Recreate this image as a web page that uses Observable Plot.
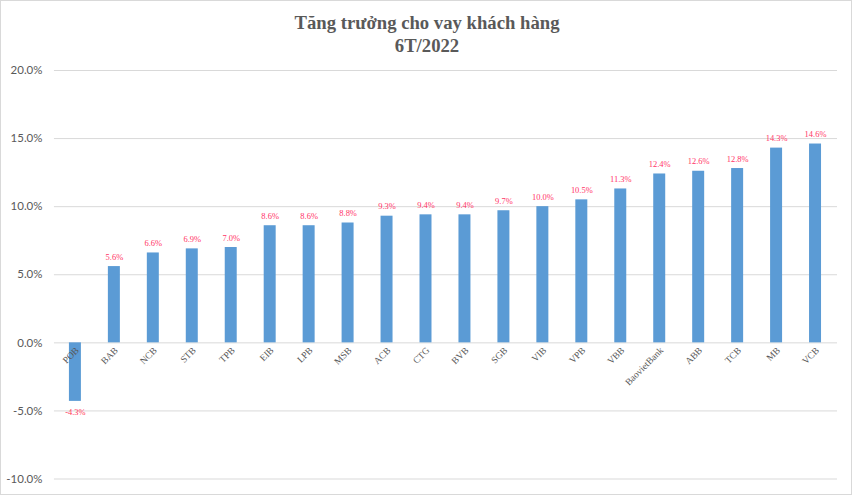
<!DOCTYPE html>
<html>
<head>
<meta charset="utf-8">
<script src="https://cdn.jsdelivr.net/npm/d3@7"></script>
<script src="https://cdn.jsdelivr.net/npm/@observablehq/plot@0.6"></script>
<style>
  html, body { margin: 0; padding: 0; background: #fff; }
  #wrap { position: relative; width: 852px; height: 495px; box-sizing: border-box; border: 1px solid #d9d9d9; overflow: hidden; }
  #title { position: absolute; left: 0; top: 10px; width: 852px; text-align: center;
    font-family: "Liberation Serif", "Times New Roman", serif; font-weight: bold; font-size: 18.7px;
    line-height: 23px; color: #595959; }
  #chart { position: absolute; left: -1px; top: 59px; }
</style>
</head>
<body>
<div id="wrap">
  <div id="title">Tăng trưởng cho vay khách hàng<br>6T/2022</div>
  <div id="chart"></div>
</div>
<script>
const banks = ["POB","BAB","NCB","STB","TPB","EIB","LPB","MSB","ACB","CTG","BVB","SGB","VIB","VPB","VBB","BaovietBank","ABB","TCB","MB","VCB"];
const growth = [-4.3,5.6,6.6,6.9,7.0,8.6,8.6,8.8,9.3,9.4,9.4,9.7,10.0,10.5,11.3,12.4,12.6,12.8,14.3,14.6];
const yTicks = [-10,-5,0,5,10,15,20];

const data = banks.map((b, i) => ({bank: b, value: growth[i]}));
const pos = data.filter(d => d.value >= 0);
const neg = data.filter(d => d.value < 0);
const fmt = d => d.toFixed(1) + "%";
const serif = "'Liberation Serif', 'Times New Roman', serif";

const chart = Plot.plot({
  width: 852,
  height: 436,
  marginTop: 10,
  marginBottom: 17,
  marginLeft: 54,
  marginRight: 14,
  style: {background: "transparent"},
  x: {domain: banks, paddingInner: 0.68, paddingOuter: 0.34, axis: null},
  y: {domain: [-10, 20], ticks: yTicks, tickFormat: fmt},
  marks: [
    Plot.gridY(yTicks, {stroke: "#d9d9d9", strokeOpacity: 1}),
    Plot.axisY({ticks: yTicks, tickFormat: fmt, tickSize: 0, tickPadding: 12,
      fill: "#595959", fontSize: 11.5, fontFamily: "Lato, 'Liberation Sans', sans-serif", label: null}),
    Plot.barY(data, {x: "bank", y: "value", fill: "#5B9BD5"}),
    Plot.text(pos, {x: "bank", y: "value", text: d => fmt(d.value),
      lineAnchor: "bottom", dy: -7,
      fill: "#ff3366", fontSize: 8.5, fontFamily: serif}),
    Plot.text(neg, {x: "bank", y: "value", text: d => fmt(d.value),
      lineAnchor: "top", dy: 8,
      fill: "#ff3355", fontSize: 8.5, fontFamily: serif}),
    Plot.text(data, {x: "bank", y: () => 0, text: "bank", rotate: -45, textAnchor: "end",
      dx: 2, dy: 6, fill: "#595959", fontSize: 9.5, fontFamily: serif})
  ]
});
document.getElementById("chart").appendChild(chart);
</script>
</body>
</html>
